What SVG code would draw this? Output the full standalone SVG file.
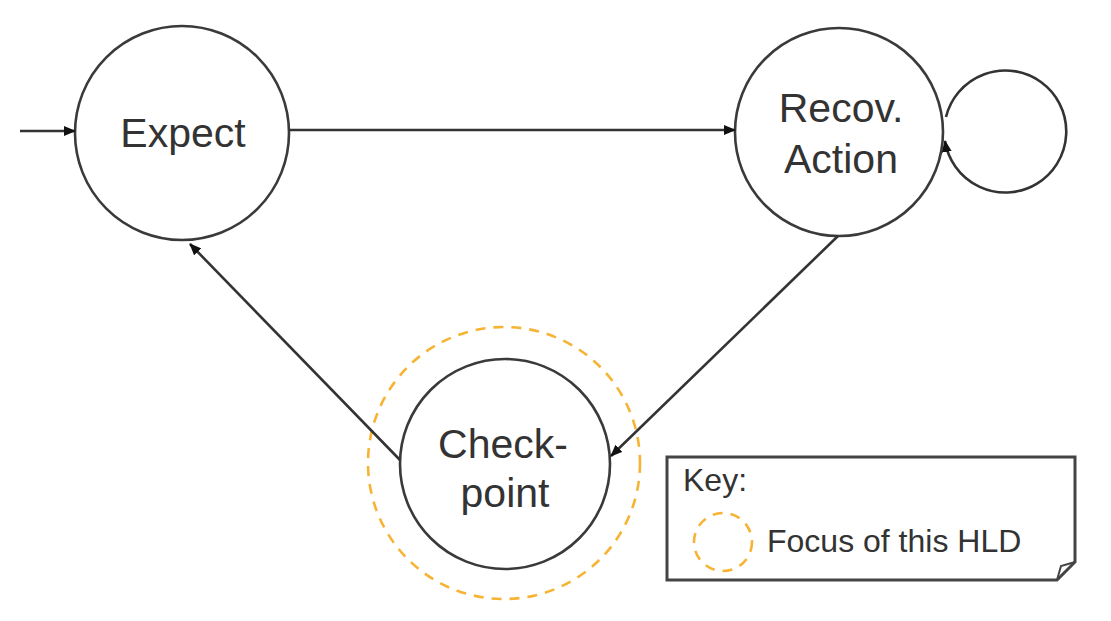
<svg xmlns="http://www.w3.org/2000/svg" width="1111" height="621" viewBox="0 0 1111 621">
<defs>
<marker id="ah" markerUnits="userSpaceOnUse" markerWidth="12" markerHeight="10" refX="11" refY="5" orient="auto">
<path d="M0,0 L12,5 L0,10 Z" fill="#111"/>
</marker>
<style>
.st{fill:#fff;stroke:#3a3a3a;stroke-width:2.6}
.lbl{font-family:"Liberation Sans",Arial,sans-serif;font-size:41px;fill:#333;text-anchor:middle}
.edge{fill:none;stroke:#333;stroke-width:2.6;marker-end:url(#ah)}
.focus{fill:none;stroke:#f7b334;stroke-width:2.6;stroke-dasharray:10 8}
.key{font-family:"Liberation Sans",Arial,sans-serif;font-size:32px;fill:#333}
</style>
</defs>
<rect width="1111" height="621" fill="#fff"/>
<g id="focus-ring"><circle class="focus" cx="504" cy="463" r="136"/></g>
<g id="expect"><circle class="st" cx="182" cy="133" r="107"/><text class="lbl" x="183" y="147">Expect</text></g>
<g id="recov"><circle class="st" cx="839" cy="132" r="104"/><text class="lbl" x="841" y="122">Recov.</text><text class="lbl" x="841" y="173">Action</text></g>
<g id="checkpoint"><circle class="st" cx="505" cy="464" r="105"/><text class="lbl" x="503" y="458">Check-</text><text class="lbl" x="505" y="507">point</text></g>
<g id="connectors">
<line class="edge" x1="20" y1="131" x2="75" y2="131"/>
<line class="edge" x1="289" y1="130" x2="735" y2="130"/>
<line class="edge" x1="838" y1="236" x2="611" y2="456"/>
<line class="edge" x1="400" y1="460" x2="190" y2="244"/>
<path class="edge" d="M946,117 A61 61 0 1 1 945,141"/>
</g>
<g id="key">
<path d="M667,457 H1075 V562 L1057,580 H667 Z" fill="#fff" stroke="#444" stroke-width="3"/>
<path d="M1057,580 L1061,566 L1075,562" fill="none" stroke="#444" stroke-width="2"/>
<text class="key" x="683" y="491">Key:</text>
<circle class="focus" cx="723" cy="542" r="29" stroke-dasharray="8 7"/>
<text class="key" x="767" y="552">Focus of this HLD</text>
</g>
</svg>
